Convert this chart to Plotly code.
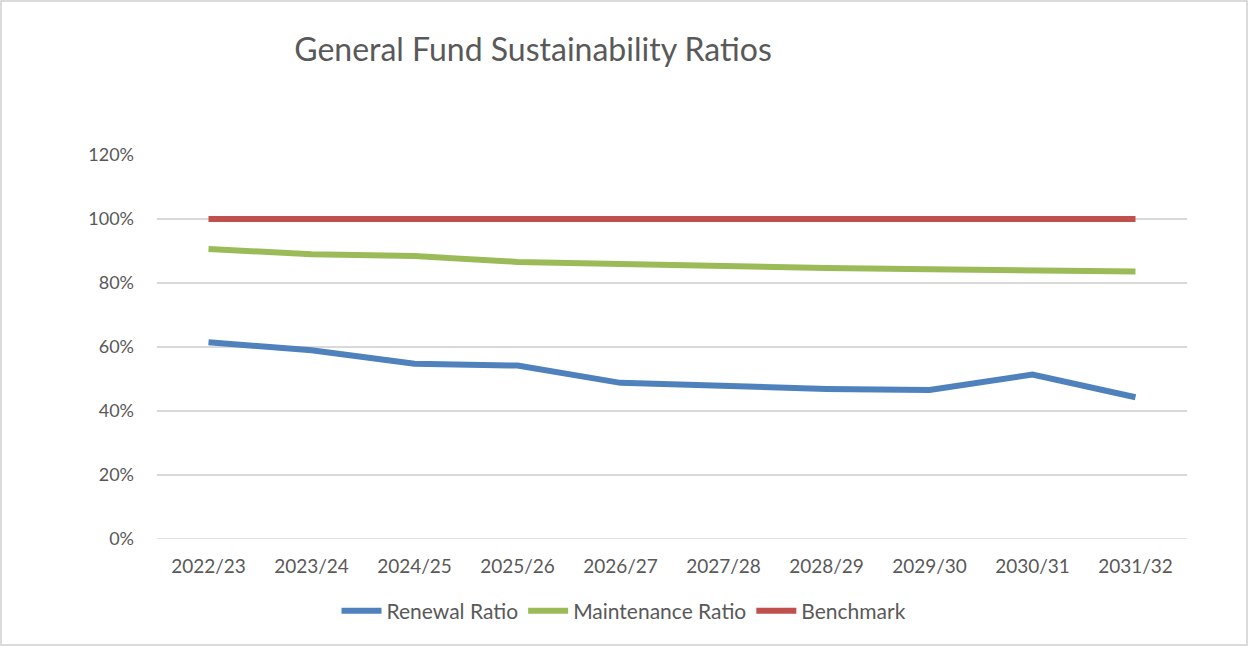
import plotly.graph_objects as go

years = ["2022/23", "2023/24", "2024/25", "2025/26", "2026/27",
         "2027/28", "2028/29", "2029/30", "2030/31", "2031/32"]
renewal = [0.615, 0.59, 0.548, 0.542, 0.488, 0.477, 0.469, 0.466, 0.514, 0.443]
maintenance = [0.906, 0.890, 0.884, 0.866, 0.859, 0.852, 0.847, 0.843, 0.840, 0.836]
benchmark = [1.0] * len(years)

W, H = 1249, 647
ML, MR, MT, MB = 157, 62, 155, 108
pw, ph = W - ML - MR, H - MT - MB

font = "Lato, 'Open Sans', sans-serif"
grey = "#595959"

fig = go.Figure()
fig.add_trace(go.Scatter(x=years, y=renewal, mode="lines", name="Renewal Ratio",
                         line=dict(color="#4F81BD", width=6)))
fig.add_trace(go.Scatter(x=years, y=maintenance, mode="lines", name="Maintenance Ratio",
                         line=dict(color="#9BBB59", width=6)))
fig.add_trace(go.Scatter(x=years, y=benchmark, mode="lines", name="Benchmark",
                         line=dict(color="#C0504D", width=6)))

fig.update_layout(
    width=W, height=H,
    margin=dict(l=ML, r=MR, t=MT, b=MB),
    paper_bgcolor="white", plot_bgcolor="white",
    font=dict(family=font, size=18, color=grey),
    title=dict(text="General Fund Sustainability Ratios", x=533 / W, xanchor="center",
               y=1 - 50 / H, yanchor="middle",
               font=dict(family=font, size=32, color=grey)),
    xaxis=dict(range=[-0.5, len(years) - 0.5], showgrid=False, showline=False,
               ticks="", ticklabelstandoff=14, tickfont=dict(size=19, color=grey)),
    yaxis=dict(range=[0, 1.2], dtick=0.2, tickformat=".0%", showgrid=True,
               gridcolor="#d9d9d9", gridwidth=1.5, zeroline=False, showline=False,
               ticks="", ticklabelstandoff=22, tickfont=dict(size=18, color=grey)),
    legend=dict(orientation="h", x=(624 - ML) / pw, xanchor="center",
                y=-(611 - (MT + ph)) / ph, yanchor="middle",
                font=dict(size=21, color=grey), itemwidth=40),
    showlegend=True,
    shapes=[
        dict(type="line", xref="paper", yref="y", x0=0, x1=1, y0=0, y1=0,
             line=dict(color="#d9d9d9", width=1.5)),
        dict(type="rect", xref="paper", yref="paper",
             x0=(1 - ML) / pw, x1=(W - 2 - ML) / pw,
             y0=(MT + ph - (H - 2)) / ph, y1=(MT + ph - 1) / ph,
             line=dict(color="#d0d0d0", width=1.5), layer="below"),
    ],
)

fig.write_html("out.html", config={"displayModeBar": False},
               post_script="document.body.style.margin='0';")
